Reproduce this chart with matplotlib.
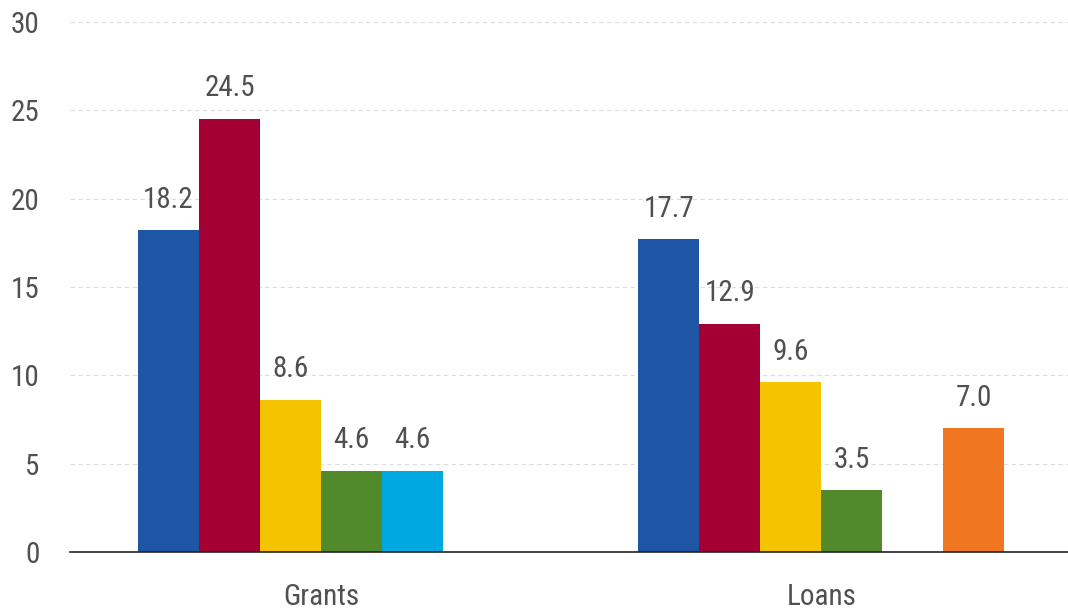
import numpy as np
import matplotlib.pyplot as plt
from matplotlib import font_manager

# === DATA ===
groups = ["Grants", "Loans"]
series_names = ["S1", "S2", "S3", "S4", "S5", "S6"]
values = {
    "S1": [18.2, 17.7],
    "S2": [24.5, 12.9],
    "S3": [8.6, 9.6],
    "S4": [4.6, 3.5],
    "S5": [4.6, np.nan],
    "S6": [np.nan, 7.0],
}
colors = ["#1f55a5", "#a50034", "#f5c400", "#518a2a", "#00a8e1", "#f07622"]

names = {f.name for f in font_manager.fontManager.ttflist}
fam = [f for f in ["Roboto Condensed", "Liberation Sans Narrow", "Roboto", "DejaVu Sans"] if f in names]
plt.rcParams['font.family'] = fam

fig = plt.figure(figsize=(10.68, 6.1), dpi=100)
ax = fig.add_axes([70 / 1068, 58 / 610, 998 / 1068, 530 / 610])

x = np.arange(len(groups))
width = 0.122
n = len(series_names)
for i, name in enumerate(series_names):
    pos = x + (i - (n - 1) / 2) * width
    vals = np.array(values[name])
    ax.bar(pos, vals, width=width, color=colors[i], edgecolor="none", zorder=3)
    for p, v in zip(pos, vals):
        if not np.isnan(v):
            ax.annotate(f"{v:.1f}", (p, v), xytext=(0, 12), textcoords="offset points",
                        ha="center", va="bottom", fontsize=21, color="#505050")

ax.set_xlim(-0.502, 1.493)
ax.set_ylim(0, 30)
ax.set_yticks(range(0, 31, 5))
ax.set_xticks(x)
ax.set_xticklabels(groups)
ax.tick_params(axis="both", length=0, labelsize=21, labelcolor="#505050")
ax.tick_params(axis="y", pad=22)
ax.tick_params(axis="x", pad=22)
for lbl in ax.get_yticklabels():
    lbl.set_horizontalalignment("right")
ax.grid(axis="y", color="#dddddd", linestyle=(0, (4, 3)), linewidth=0.8, zorder=0)
for s in ["top", "right", "left"]:
    ax.spines[s].set_visible(False)
ax.spines["bottom"].set_color("#222222")
ax.spines["bottom"].set_linewidth(1.2)
ax.spines["bottom"].set_zorder(4)

fig.savefig("out.png", dpi=100)
